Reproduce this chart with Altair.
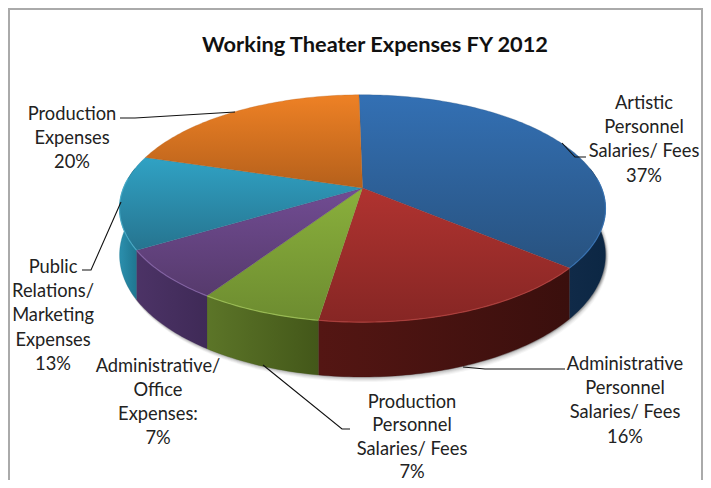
import math
import altair as alt
import pandas as pd

TITLE = "Working Theater Expenses FY 2012"
names = ["Artistic Personnel Salaries/ Fees", "Administrative Personnel Salaries/ Fees",
         "Production Personnel Salaries/ Fees", "Administrative/ Office Expenses:",
         "Public Relations/ Marketing Expenses", "Production Expenses"]
shares = [36.4, 16.3, 6.9, 7.1, 13.3, 20.0]
top_colors = [("#3370b4", "#28527f"), ("#b03330", "#862624"), ("#8ab03c", "#6d8c30"),
              ("#714c93", "#563a6c"), ("#30a2c4", "#26748f"), ("#ee8125", "#b5601b")]
wall_colors = [("#0c2744", "#102a48"), ("#3a0f0d", "#541613"), ("#435719", "#5c7528"),
               ("#3f2a57", "#4c3366"), ("#1f7690", "#2b8fad"), ("#b5601b", "#b5601b")]
rim_colors = ["#3a78bd", "#b54340", "#a3c65a", "#8a68ab", "#4db3d0", "#f09a50"]

label_lines = [
    ["Artistic", "Personnel", "Salaries/ Fees", "37%"],
    ["Administrative", "Personnel", "Salaries/ Fees", "16%"],
    ["Production", "Personnel", "Salaries/ Fees", "7%"],
    ["Administrative/", "Office", "Expenses:", "7%"],
    ["Public", "Relations/", "Marketing", "Expenses", "13%"],
    ["Production", "Expenses", "20%"],
]
label_x = [644, 625, 412, 158, 53, 72]
label_y = [[103.5, 127.5, 151.5, 176.5], [364.5, 388.5, 412.5, 437.5], [402.5, 426, 450, 472.5],
           [366.5, 390.5, 414.5, 438.5], [267.5, 291.5, 315.5, 340.5, 364.5], [114.5, 138.5, 162.5]]
leaders = [
    [(586, 157), (575, 157), (562, 143)],
    [(565, 369), (485, 369), (463, 367)],
    [(350, 429), (342, 429), (263, 365)],
    [(82, 270), (91, 270), (121, 202)],
    [(120, 118), (135, 118), (235, 112)],
]
frame = [(9, 480), (9, 9), (702, 9), (702, 480)]

W, H = 695, 472
CX, CY, A, B, K, DEPTH, START = 362.5, 188.0, 239.0, 110.0, 0.18, 45.0, -1.0
x_scale = alt.Scale(domain=[8, 8 + W], nice=False, zero=False)
y_scale = alt.Scale(domain=[8 + H, 8], nice=False, zero=False)


def project(theta, drop=0.0, dx=0.0):
    t = math.radians(theta)
    u, v = math.sin(t), -math.cos(t)
    d = 1 - K * v
    return CX + A * u / d + dx, CY + B * v / d + drop * DEPTH / d


def arc(a, b, drop=0.0, dx=0.0):
    n = max(2, int(abs(b - a)) + 1)
    return [project(a + (b - a) * i / (n - 1), drop, dx) for i in range(n)]


def poly(points, fill=None, stroke=None, width=0.0, opacity=1.0, gradient=None):
    df = pd.DataFrame(points, columns=["px", "py"])
    df["i"] = range(len(df))
    kw = {"strokeWidth": width, "opacity": opacity, "clip": False}
    if gradient is not None:
        kw["fill"] = gradient
    elif fill is not None:
        kw["fill"] = fill
    kw["stroke"] = stroke if stroke else "transparent"
    return alt.Chart(df).mark_line(**kw).encode(
        x=alt.X("px:Q", scale=x_scale, axis=None),
        y=alt.Y("py:Q", scale=y_scale, axis=None),
        order="i:Q",
    )


def grad(c0, c1, horizontal=False):
    return alt.Gradient(
        gradient="linear",
        stops=[alt.GradientStop(offset=0, color=c0), alt.GradientStop(offset=1, color=c1)],
        x1=0, y1=0, x2=1 if horizontal else 0, y2=0 if horizontal else 1,
    )


edges = [START]
for s in shares:
    edges.append(edges[-1] + s * 3.6)

layers = []

# soft shadow below the drum
for off, op in [(5, 0.05), (4, 0.07), (3, 0.09), (2, 0.12), (1, 0.15)]:
    layers.append(poly(arc(79, 281, 1.0, off * 0.7) + arc(281, 79, 0.0, 0), fill="#555555", opacity=op))
    layers.append(poly([(x, y + off) for x, y in arc(79, 281, 1.0, off * 0.5)] + arc(281, 79, 0.0, 0),
                       fill="#555555", opacity=op))

# side walls
for i in range(len(shares)):
    a, b = max(edges[i], 79.6), min(edges[i + 1], 280.4)
    if b <= a:
        continue
    pts = arc(a, b, 0.0) + arc(b, a, 1.0)
    layers.append(poly(pts, gradient=grad(wall_colors[i][1], wall_colors[i][0], True),
                       stroke=wall_colors[i][0], width=0.3))

# top faces
for i in range(len(shares)):
    pts = [(CX, CY)] + arc(edges[i], edges[i + 1]) + [(CX, CY)]
    layers.append(poly(pts, gradient=grad(*top_colors[i]), stroke=top_colors[i][1], width=0.3))

# rim highlight
for i in range(len(shares)):
    a, b = max(edges[i], 85), min(edges[i + 1], 275)
    if b > a:
        layers.append(poly(arc(a, b), stroke=rim_colors[i], width=1.2, opacity=0.8))

# leaders and frame
for pts in leaders:
    layers.append(poly(pts, stroke="#111111", width=1.1))
layers.append(poly(frame, stroke="#aaaaaa", width=2))

# labels
rows = []
for name, lines, x, ys in zip(names, label_lines, label_x, label_y):
    for line, y in zip(lines, ys):
        rows.append({"name": name, "text": line, "px": x, "py": y})
layers.append(
    alt.Chart(pd.DataFrame(rows)).mark_text(font="Lato", fontSize=18.3, color="#222222",
                                            align="center", baseline="middle").encode(
        x=alt.X("px:Q", scale=x_scale, axis=None),
        y=alt.Y("py:Q", scale=y_scale, axis=None),
        text="text:N",
    )
)
layers.append(
    alt.Chart(pd.DataFrame({"text": [TITLE], "px": [375], "py": [45]})).mark_text(
        font="Lato", fontSize=21.8, fontWeight="bold", color="#111111", align="center", baseline="middle"
    ).encode(
        x=alt.X("px:Q", scale=x_scale, axis=None),
        y=alt.Y("py:Q", scale=y_scale, axis=None),
        text="text:N",
    )
)

chart = alt.layer(*layers).properties(
    width=W, height=H, padding=0, autosize=alt.AutoSizeParams(type="none")
).configure_view(stroke=None).configure(background="white")
chart.save("out.html", embed_options={"renderer": "svg", "actions": False})
